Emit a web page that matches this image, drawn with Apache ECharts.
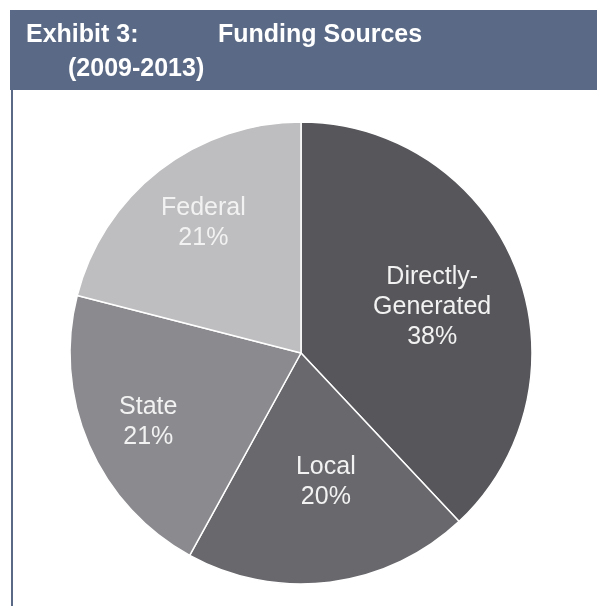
<!DOCTYPE html>
<html>
<head>
<meta charset="utf-8">
<script src="https://cdn.jsdelivr.net/npm/echarts@6/dist/echarts.min.js"></script>
<style>
html,body{margin:0;padding:0;background:#fff;}
#c{width:597px;height:606px;}
</style>
</head>
<body>
<div id="c"></div>
<script>
const categories = ['Directly-\nGenerated', 'Local', 'State', 'Federal'];
const values = [38, 20, 21, 21];
const sliceColors = ['#57565b', '#69686d', '#8b8a8f', '#bebec0'];
const titleLine1a = 'Exhibit 3:';
const titleLine1b = 'Funding Sources';
const titleLine2 = '(2009-2013)';

const labelOffsets = [[21, -2], [10, 12], [-44, 22], [-25, -36]];

const titleFont = 'bold 25px "Liberation Sans", Arial, sans-serif';
const chart = echarts.init(document.getElementById('c'), null, {renderer: 'canvas'});
const option = {
  animation: false,
  backgroundColor: '#ffffff',
  graphic: [
    {type: 'rect', shape: {x: 10, y: 10, width: 587, height: 80}, style: {fill: '#5a6a86'}, z: 1},
    {type: 'rect', shape: {x: 11, y: 90, width: 2, height: 516}, style: {fill: '#5a6a86'}, z: 1},
    {type: 'text', x: 26, y: 35, style: {text: titleLine1a, fill: '#ffffff', font: titleFont, verticalAlign: 'middle'}, z: 2},
    {type: 'text', x: 218, y: 35, style: {text: titleLine1b, fill: '#ffffff', font: titleFont, verticalAlign: 'middle'}, z: 2},
    {type: 'text', x: 68, y: 69, style: {text: titleLine2, fill: '#ffffff', font: titleFont, verticalAlign: 'middle'}, z: 2}
  ],
  series: [{
    type: 'pie',
    center: [301, 353],
    radius: [0, 231],
    startAngle: 90,
    clockwise: true,
    silent: true,
    label: {
      show: true,
      position: 'inside',
      formatter: function (p) { return p.name + '\n' + p.value + '%'; },
      color: '#f2f2f2',
      fontFamily: '"Liberation Sans", Arial, sans-serif',
      fontSize: 25,
      lineHeight: 30,
      align: 'center'
    },
    labelLine: {show: false},
    labelLayout: function (params) {
      const o = labelOffsets[params.dataIndex];
      return {dx: o[0], dy: o[1]};
    },
    itemStyle: {borderColor: '#ffffff', borderWidth: 1.5},
    data: categories.map((c, i) => ({name: c, value: values[i], itemStyle: {color: sliceColors[i]}}))
  }]
};
chart.setOption(option);
</script>
</body>
</html>
